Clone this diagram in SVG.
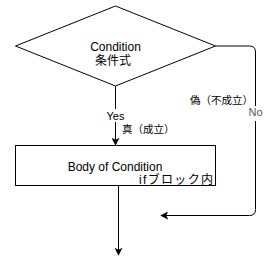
<svg xmlns="http://www.w3.org/2000/svg" width="270" height="266" viewBox="0 0 270 266">
<defs>
<style>
.shape{fill:#fff;stroke:#000;stroke-width:1}
.edge{fill:none;stroke:#000;stroke-width:1}
.t{font-family:"Liberation Sans","Noto Sans CJK JP",sans-serif;font-size:12px;fill:#000}
.s{font-size:11px}
.c{font-size:10.5px}
.lbl{fill:#fff}
</style>
<marker id="arr" viewBox="0 0 10 10" refX="9" refY="5" markerWidth="8" markerHeight="8" markerUnits="userSpaceOnUse" orient="auto">
<path d="M0,0 L10,5 L0,10 L2.5,5 Z" fill="#000"/>
</marker>
</defs>
<rect width="270" height="266" fill="#fff"/>
<g id="connectors">
<path class="edge" d="M115.5,86 V145" marker-end="url(#arr)"/>
<path class="edge" d="M215.5,46 H249.5 Q255.5,46 255.5,52 V209.5 Q255.5,215.5 249.5,215.5 H161" marker-end="url(#arr)"/>
<path class="edge" d="M118.5,185.5 V255" marker-end="url(#arr)"/>
<rect class="lbl" x="105" y="109" width="21" height="13"/>
<text class="t s" x="115.5" y="120" text-anchor="middle">Yes</text>
<text class="t c" x="122" y="133">真（成立）</text>
<text class="t c" x="253" y="104" text-anchor="end">偽（不成立）</text>
<rect class="lbl" x="247" y="106" width="16" height="15"/>
<text class="t s" x="255.5" y="115.5" text-anchor="middle" style="fill:#555">No</text>
</g>
<g id="condition">
<polygon class="shape" points="15.5,46 115.5,6 215.5,46 115.5,86"/>
<text class="t" x="115.5" y="51" text-anchor="middle">Condition</text>
<text class="t" x="113" y="65" text-anchor="middle">条件式</text>
</g>
<g id="body">
<rect class="shape" x="15.5" y="145.5" width="200" height="40"/>
<text class="t" x="115" y="171" text-anchor="middle">Body of Condition</text>
<text class="t" x="139" y="183.5" textLength="74" lengthAdjust="spacing">ifブロック内</text>
</g>
</svg>
